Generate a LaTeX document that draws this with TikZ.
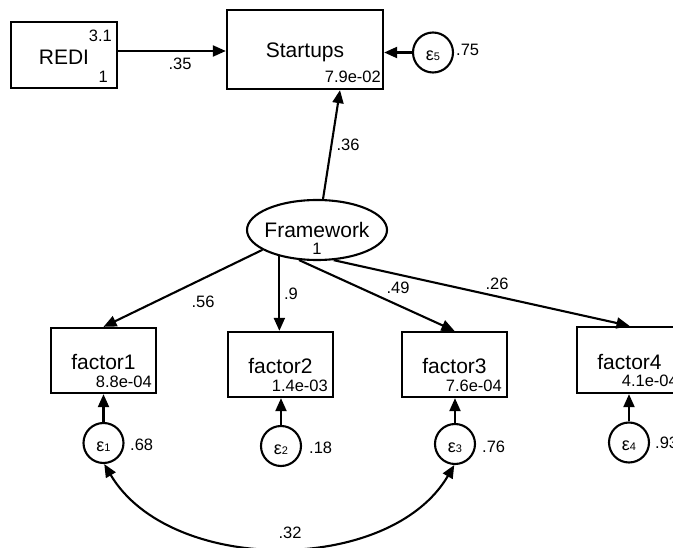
\documentclass[tikz,border=0pt]{standalone}
\usepackage{fontspec}
\setmainfont{Liberation Sans}
\usetikzlibrary{arrows.meta,shapes.geometric}
\begin{document}
\begin{tikzpicture}[x=1pt,y=-1pt,
  box/.style={draw,line width=2.3pt,minimum width=105pt,minimum height=65pt,inner sep=0pt},
  err/.style={draw,circle,line width=2.1pt,minimum size=40pt,inner sep=0pt},
  big/.style={font=\fontsize{21}{21}\selectfont,inner sep=0pt},
  small/.style={font=\fontsize{16.5}{16.5}\selectfont,inner sep=0pt},
  epsl/.style={font=\fontsize{18}{18}\selectfont,inner sep=0pt},
  conn/.style={line width=2.1pt,-{Triangle[length=13pt,width=11pt]}},
  cov/.style={line width=2.1pt,{Triangle[length=13pt,width=11pt]}-{Triangle[length=13pt,width=11pt]}},
]
\clip (0,0) rectangle (673,548);
\newcommand{\epsi}[1]{ε{\fontsize{11}{11}\selectfont #1}}

% REDI
\node[box,minimum width=106pt,minimum height=66pt] (redi) at (64,55) {};
\node[big] (rediT) at (64,57) {REDI};
\node[small,anchor=east] (rediM) at (112,36) {3.1};
\node[small,anchor=east] (rediV) at (108,77) {1};

% Startups
\node[box,minimum width=156pt,minimum height=79pt] (st) at (305,49.5) {};
\node[big] (stT) at (305,52) {Startups};
\node[small,anchor=east] (stV) at (381,77) {7.9e-02};
\node[err] (e5) at (433,52.5) {};
\node[epsl] (e5t) at (433,55.5) {\epsi{5}};
\node[small,anchor=west] (e5v) at (456,50) {.75};

% Framework
\node[draw,ellipse,line width=2.1pt,minimum width=140pt,minimum height=60pt,inner sep=0pt] (fw) at (317,230) {};
\node[big] (fwT) at (317,230) {Framework};
\node[small] (fwV) at (317,249) {1};

% factors
\node[box] (f1) at (103.5,360.5) {};
\node[big] (f1T) at (103.5,362.5) {factor1};
\node[small,anchor=east] (f1V) at (152,382) {8.8e-04};
\node[box] (f2) at (280.5,364.5) {};
\node[big] (f2T) at (280.5,366.5) {factor2};
\node[small,anchor=east] (f2V) at (328,386) {1.4e-03};
\node[box] (f3) at (454.5,364.5) {};
\node[big] (f3T) at (454.5,366.5) {factor3};
\node[small,anchor=east] (f3V) at (502,386) {7.6e-04};
\node[box,minimum height=66pt] (f4) at (629.5,360) {};
\node[big] (f4T) at (629.5,362) {factor4};
\node[small,anchor=east] (f4V) at (678,381) {4.1e-04};

% errors
\node[err] (e1) at (103.5,443) {};
\node[epsl] (e1t) at (103.5,446.5) {\epsi{1}};
\node[small,anchor=west] (e1v) at (130,445) {.68};
\node[err] (e2) at (281,446) {};
\node[epsl] (e2t) at (281,449.5) {\epsi{2}};
\node[small,anchor=west] (e2v) at (309,448) {.18};
\node[err] (e3) at (455,444) {};
\node[epsl] (e3t) at (455,447.5) {\epsi{3}};
\node[small,anchor=west] (e3v) at (482,447) {.76};
\node[err] (e4) at (629,442.5) {};
\node[epsl] (e4t) at (629,446) {\epsi{4}};
\node[small,anchor=west] (e4v) at (655,443) {.93};

% connectors
\draw[conn] ([yshift=4pt]redi.east) -- ([yshift=4pt]redi.east -| st.west);
\node[small] (l35) at (180,64) {.35};
\draw[conn] (e5) -- (e5 -| st.east);
\draw[conn] (fw.79) -- ([xshift=35pt]st.south);
\node[small] (l36) at (348,145) {.36};

\draw[conn] (fw.200) -- (f1.north);
\node[small] (l56) at (203,302) {.56};
\draw[conn] (fw.215) -- (fw.215 |- f2.north);
\node[small] (l9) at (291,294) {.9};
\draw[conn] (fw.239) -- (f3.north);
\node[small] (l49) at (398,288) {.49};
\draw[conn] (fw.299) -- (f4.north);
\node[small] (l26) at (497,284) {.26};

\draw[conn] (e1) -- (e1 |- f1.south);
\draw[conn] (e2) -- (e2 |- f2.south);
\draw[conn] (e3) -- (e3 |- f3.south);
\draw[conn] (e4) -- (e4 |- f4.south);

\draw[cov] (e1.-88) .. controls (170,575) and (390,575) .. (e3.-92);
\node[small] (l32) at (290,533) {.32};
\end{tikzpicture}
\end{document}
